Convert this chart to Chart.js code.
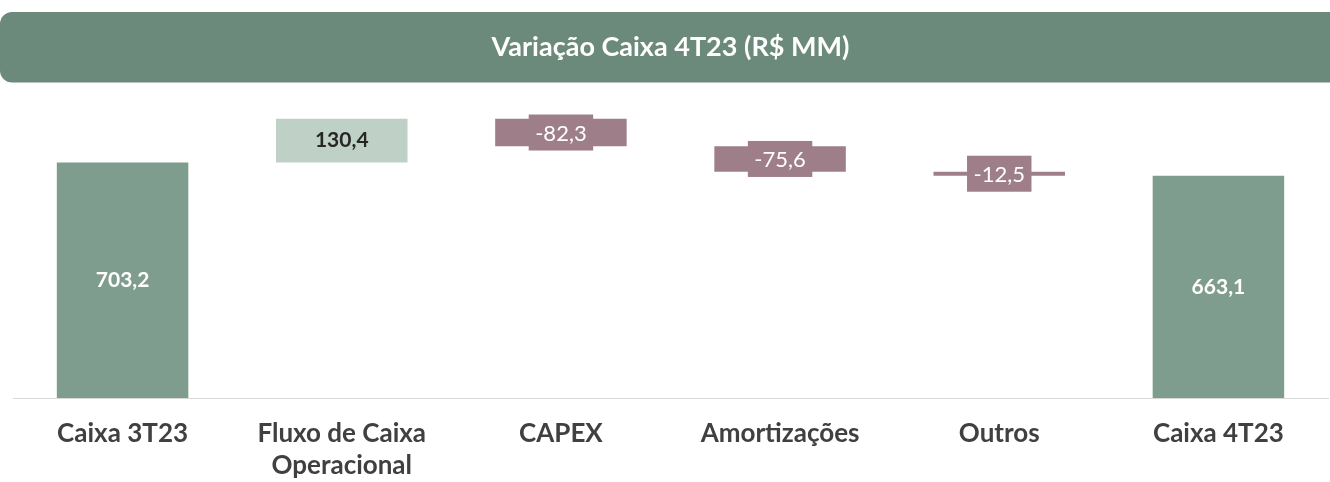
<!DOCTYPE html>
<html>
<head>
<meta charset="utf-8">
<script src="https://cdn.jsdelivr.net/npm/chart.js@4"></script>
<style>
  html, body { margin: 0; padding: 0; background: #ffffff; }
  #wrap { width: 1330px; height: 482px; position: relative; }
</style>
</head>
<body>
<div id="wrap"><canvas id="c" width="1330" height="482"></canvas></div>
<script>
const titleText = 'Variação Caixa 4T23 (R$ MM)';
const categories = ['Caixa 3T23', ['Fluxo de Caixa', 'Operacional'], 'CAPEX', 'Amortizações', 'Outros', 'Caixa 4T23'];
const values = [703.2, 130.4, -82.3, -75.6, -12.5, 663.1];
const isTotal = [true, false, false, false, false, true];

const colTotal = '#7f9d8e';
const colPos = '#bfd0c6';
const colNeg = '#9e7f89';
const colBanner = '#6b8a7b';

// floating ranges built from the values (waterfall)
const ranges = [];
let run = 0;
values.forEach((v, i) => {
  if (isTotal[i]) { ranges.push([0, v]); run = v; }
  else { ranges.push([run, run + v]); run += v; }
});
const colors = values.map((v, i) => isTotal[i] ? colTotal : (v >= 0 ? colPos : colNeg));

const fmt = v => v.toFixed(1).replace('.', ',');

const bannerPlugin = {
  id: 'banner',
  beforeDraw(chart) {
    const tb = chart.titleBlock;
    const ctx = chart.ctx;
    ctx.save();
    ctx.fillStyle = colBanner;
    ctx.beginPath();
    ctx.roundRect(0, tb.top, chart.width + 30, tb.height, 12);
    ctx.fill();
    ctx.restore();
  }
};

const labelPlugin = {
  id: 'vlabels',
  afterDatasetsDraw(chart) {
    const ctx = chart.ctx;
    const meta = chart.getDatasetMeta(0);
    ctx.save();
    ctx.textAlign = 'center';
    ctx.textBaseline = 'middle';
    meta.data.forEach((bar, i) => {
      const v = values[i];
      const c = bar.getCenterPoint();
      const txt = fmt(v);
      if (isTotal[i]) {
        ctx.font = 'bold 21px Lato';
        ctx.fillStyle = '#ffffff';
        ctx.fillText(txt, c.x, c.y);
      } else if (v >= 0) {
        ctx.font = 'bold 21px Lato';
        ctx.fillStyle = '#262626';
        ctx.fillText(txt, c.x, c.y);
      } else {
        ctx.font = '22px Lato';
        const w = ctx.measureText(txt).width + 13;
        const h = 36;
        ctx.fillStyle = colNeg;
        ctx.fillRect(c.x - w / 2, c.y - h / 2, w, h);
        ctx.fillStyle = '#ffffff';
        ctx.fillText(txt, c.x, c.y + 1);
      }
    });
    ctx.restore();
  }
};

new Chart(document.getElementById('c'), {
  type: 'bar',
  data: {
    labels: categories,
    datasets: [{
      data: ranges,
      backgroundColor: colors,
      borderWidth: 0,
      barPercentage: 0.6,
      categoryPercentage: 1
    }]
  },
  options: {
    responsive: false,
    animation: false,
    layout: { padding: { top: 12, left: 13, right: 2, bottom: -20 } },
    plugins: {
      legend: { display: false },
      tooltip: { enabled: false },
      title: {
        display: true,
        text: titleText,
        color: '#ffffff',
        font: { family: 'Lato', size: 27, weight: 'bold', lineHeight: 1.2 },
        padding: { top: 19, bottom: 19 }
      }
    },
    scales: {
      x: {
        grid: { display: false, drawTicks: false },
        border: { display: true, color: '#d9d9d9', width: 1 },
        ticks: {
          color: '#404040',
          font: { family: 'Lato', size: 26, weight: 'bold', lineHeight: 1.23 },
          padding: 20,
          maxRotation: 0,
          autoSkip: false
        }
      },
      y: {
        display: false,
        min: 0,
        max: 942
      }
    }
  },
  plugins: [bannerPlugin, labelPlugin]
});
</script>
</body>
</html>
